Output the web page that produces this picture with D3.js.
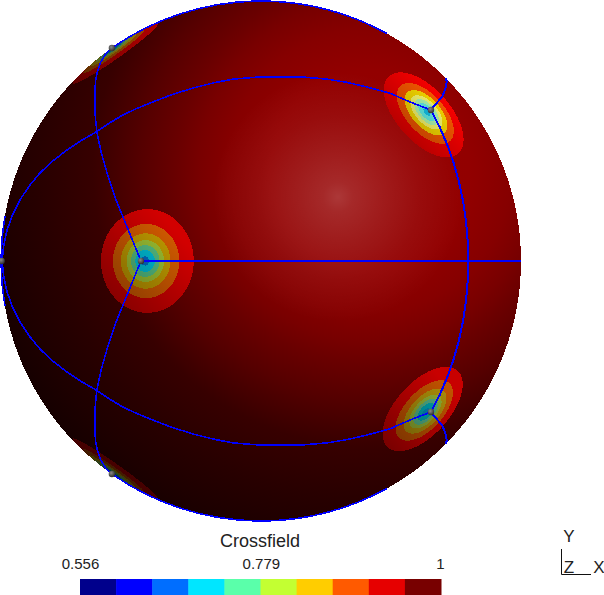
<!DOCTYPE html>
<html>
<head>
<meta charset="utf-8">
<script src="https://cdn.jsdelivr.net/npm/d3@7"></script>
<style>
  html, body { margin: 0; padding: 0; background: #fff; }
  svg { display: block; }
  text { font-family: "Liberation Sans", Arial, sans-serif; fill: #222; }
</style>
</head>
<body>
<div id="chart"></div>
<script>
// all curves are [lon, lat]
const upperRing = [[-85,0],[-79.7,6.8],[-72.5,13.6],[-64.6,19.8],[-55.6,25.3],[-47,29.7],[-39.9,34.2],[-32.5,37.4],[-20.5,41.7],[-8.7,44.4],[6.9,45.1],[20.8,44.4],[33.3,42],[40.5,40.2],[46.4,37.7],[53.4,35.5]];
const lowerRing = [[-85,0],[-79.7,-6.8],[-72.5,-13.6],[-64.6,-19.8],[-55.6,-25.3],[-47,-29.7],[-39.9,-34.2],[-32.5,-37.4],[-20.5,-41.7],[-8.7,-44.4],[6.9,-45.1],[20.8,-44.4],[33.3,-42],[40.5,-40.2],[46.4,-37.7],[53.4,-35.5]];
const rightArc = [[53.4,35.5],[52.8,0],[53.4,-35.5]];
const upperBranch = [[53.4,35.5],[56.8,36.9],[63.8,39.1],[88,44.7]];
const lowerBranch = [[53.4,-35.5],[56.8,-36.9],[63.8,-39.1],[88,-44.7]];
const upperSpoke = [[-27.5,0],[-31.3,7.5],[-39,19.8],[-46.6,29.7],[-53.5,37.4],[-58,41.1],[-67.7,47.3],[-80,52.5],[-89.5,55]];
const lowerSpoke = [[-27.5,0],[-31.3,-7.5],[-39,-19.8],[-46.6,-29.7],[-53.5,-37.4],[-58,-41.1],[-67.7,-47.3],[-80,-52.5],[-89.5,-55]];
const topLimb = [[-89.5,55],[-89.5,89],[89.5,89],[89.5,61]];
const bottomLimb = [[-89.5,-55],[-89.5,-89],[89.5,-89],[89.5,-61]];
const leftLimb = [[-89.5,-10],[-89.5,10]];
const thinLines = [upperRing, lowerRing, upperSpoke, lowerSpoke, topLimb, bottomLimb, leftLimb];
const thickLines = [rightArc, upperBranch, lowerBranch, [[-27.5,0],[89.8,0]]];

const nodes = [[-27.5,0],[53.4,35.5],[53.4,-35.5],[-89,55],[-89,-55],[-86,0]];

// contour bands: centre, angular radii (deg), colours as they appear on each spot
const bandRadii = [11.5,8.2,6.1,4.6,3.5,2.4,1];
const spots = [
  { center: [-26.5,0], colors: ["#d20000","#d25a00","#c09a00","#9cc032","#55be82","#00bed7","#006ec8"] },
  { center: [51.2,35], colors: ["#ff0000","#ff5a00","#ffe000","#ffff70","#b4ffb4","#64f5eb","#14c8f0"] },
  { center: [51.2,-35.5], colors: ["#c80000","#c05200","#aa8c0a","#8caa32","#50aa82","#00a0aa","#0082b4"] },
  { center: [-80,54.5], colors: ["#a80000","#964600","#8c780a","#6e8c32","#3c8264","#006e82","#005a78"] },
  { center: [-81,-54.5], colors: ["#520000","#502000","#504400","#3c5020","#1e503c","#004650","#003246"] }
];

const legendColors = ["#00008c","#0000ff","#006eff","#00e6ff","#5affaa","#c3ff32","#ffcd00","#ff5a00","#e60000","#780000"];
const legendTicks = [0.556, 0.779, 1];
const legendTitle = "Crossfield";

const width = 604, height = 595;

const svg = d3.select("#chart").append("svg")
  .attr("width", width)
  .attr("height", height);

const defs = svg.append("defs");

// diffuse shading of the sphere, falls off from the upper right
const shade = defs.append("radialGradient")
  .attr("id", "shade")
  .attr("gradientUnits", "userSpaceOnUse")
  .attr("cx", 370).attr("cy", 170).attr("r", 400);
[[0,150],[100,146],[142,134],[171,120],[193,106],[230,85],[264,63],[277,55],[330,40],[371,30],[400,22]].forEach(s => {
  shade.append("stop").attr("offset", s[0] / 400).attr("stop-color", `rgb(${s[1]},0,0)`);
});

const spec = defs.append("radialGradient")
  .attr("id", "spec")
  .attr("gradientUnits", "userSpaceOnUse")
  .attr("cx", 338).attr("cy", 197).attr("r", 125);
[[0,0.22],[0.12,0.16],[0.35,0.11],[0.65,0.05],[1,0]].forEach(s => {
  spec.append("stop").attr("offset", s[0]).attr("stop-color", "#fff").attr("stop-opacity", s[1]);
});

// each spot darkens toward its lower left
const spotShade = defs.append("linearGradient")
  .attr("id", "spotShade")
  .attr("x1", 0).attr("y1", 1).attr("x2", 1).attr("y2", 0);
spotShade.append("stop").attr("offset", 0).attr("stop-color", "#000").attr("stop-opacity", 0.42);
spotShade.append("stop").attr("offset", 0.8).attr("stop-color", "#000").attr("stop-opacity", 0);

const ball = defs.append("radialGradient")
  .attr("id", "ball")
  .attr("cx", 0.4).attr("cy", 0.35).attr("r", 0.7);
ball.append("stop").attr("offset", 0).attr("stop-color", "#8a8a8a");
ball.append("stop").attr("offset", 1).attr("stop-color", "#282828");

const projection = d3.geoOrthographic()
  .scale(260)
  .translate([261, 261])
  .rotate([0, 0])
  .clipAngle(90)
  .precision(0.3);
const path = d3.geoPath(projection);
const circle = d3.geoCircle().precision(2);

const globe = svg.append("g").attr("shape-rendering", "crispEdges");

globe.append("path")
  .datum({ type: "Sphere" })
  .attr("d", path)
  .attr("fill", "url(#shade)");

globe.append("path")
  .datum({ type: "Sphere" })
  .attr("d", path)
  .attr("fill", "url(#spec)");

spots.forEach(spot => {
  globe.selectAll(null)
    .data(bandRadii)
    .enter()
    .append("path")
    .attr("d", r => path(circle.center(spot.center).radius(r)()))
    .attr("fill", (r, i) => spot.colors[i]);
  globe.append("path")
    .attr("d", path(circle.center(spot.center).radius(bandRadii[0])()))
    .attr("fill", "url(#spotShade)");
});

const lineShape = pts => ({ type: "LineString", coordinates: pts });

globe.selectAll(".thin")
  .data(thinLines)
  .enter()
  .append("path")
  .attr("class", "thin")
  .attr("d", d => path(lineShape(d)))
  .attr("fill", "none")
  .attr("stroke", "#0000ff")
  .attr("stroke-width", 1.6);

globe.selectAll(".thick")
  .data(thickLines)
  .enter()
  .append("path")
  .attr("class", "thick")
  .attr("d", d => path(lineShape(d)))
  .attr("fill", "none")
  .attr("stroke", "#0000ff")
  .attr("stroke-width", 2);

svg.selectAll(".node")
  .data(nodes)
  .enter()
  .append("circle")
  .attr("class", "node")
  .attr("cx", d => projection(d)[0])
  .attr("cy", d => projection(d)[1])
  .attr("r", 3.2)
  .attr("fill", "url(#ball)");

// colour legend
const xBand = d3.scaleBand()
  .domain(d3.range(legendColors.length))
  .range([80, 441]);

svg.selectAll(".swatch")
  .data(legendColors)
  .enter()
  .append("rect")
  .attr("class", "swatch")
  .attr("x", (d, i) => xBand(i))
  .attr("y", 579)
  .attr("width", xBand.bandwidth() + 0.5)
  .attr("height", 16)
  .attr("fill", d => d);

const xTick = d3.scaleLinear()
  .domain([0.556, 1])
  .range([80, 440]);

const tickAxis = svg.append("g")
  .attr("transform", "translate(0,572)")
  .call(d3.axisTop(xTick).tickValues(legendTicks).tickSize(0).tickFormat(d3.format("")));
tickAxis.select(".domain").remove();
tickAxis.selectAll("text")
  .attr("font-size", 15)
  .attr("font-family", '"Liberation Sans", Arial, sans-serif')
  .attr("fill", "#222");

svg.append("text")
  .attr("x", 260)
  .attr("y", 547)
  .attr("text-anchor", "middle")
  .attr("font-size", 18)
  .text(legendTitle);

// orientation triad
svg.append("path")
  .attr("d", "M561.5,549V574.5H591")
  .attr("fill", "none")
  .attr("stroke", "#111")
  .attr("stroke-width", 1);

const triad = [["Y", 569, 542], ["Z", 569, 573], ["X", 599, 573]];
svg.selectAll(".triad")
  .data(triad)
  .enter()
  .append("text")
  .attr("class", "triad")
  .attr("x", d => d[1])
  .attr("y", d => d[2])
  .attr("text-anchor", "middle")
  .attr("font-size", 17)
  .text(d => d[0]);
</script>
</body>
</html>
